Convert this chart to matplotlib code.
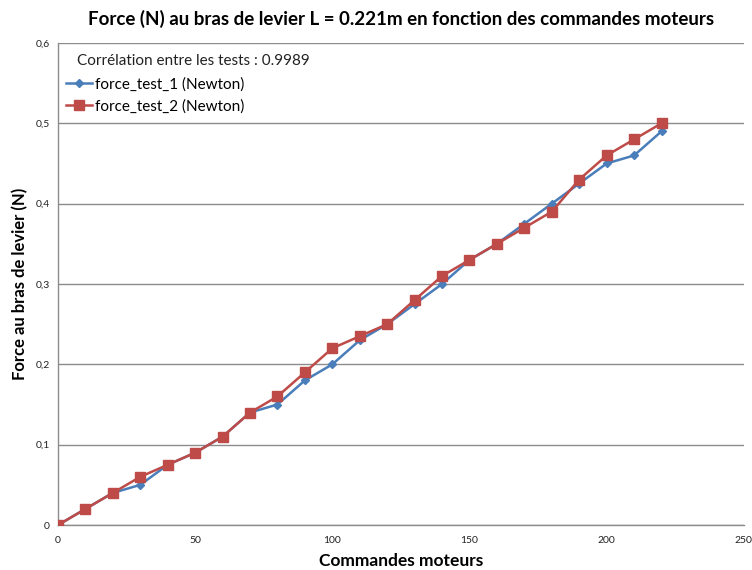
import matplotlib
matplotlib.use("Agg")
import matplotlib.pyplot as plt
from matplotlib.ticker import FuncFormatter, MultipleLocator

commandes = [0, 10, 20, 30, 40, 50, 60, 70, 80, 90, 100, 110,
             120, 130, 140, 150, 160, 170, 180, 190, 200, 210, 220]
force_test_1 = [0, 0.02, 0.04, 0.05, 0.075, 0.09, 0.11, 0.14, 0.15, 0.18, 0.20, 0.23,
                0.25, 0.275, 0.30, 0.33, 0.35, 0.375, 0.40, 0.425, 0.45, 0.46, 0.49]
force_test_2 = [0, 0.02, 0.04, 0.06, 0.075, 0.09, 0.11, 0.14, 0.16, 0.19, 0.22, 0.235,
                0.25, 0.28, 0.31, 0.33, 0.35, 0.37, 0.39, 0.43, 0.46, 0.48, 0.50]
correlation = 0.9989

title = "Force (N) au bras de levier L = 0.221m en fonction des commandes moteurs"
xlabel = "Commandes moteurs"
ylabel = "Force au bras de levier (N)"
label_1 = "force_test_1 (Newton)"
label_2 = "force_test_2 (Newton)"

plt.rcParams["font.family"] = ["Lato", "DejaVu Sans"]

BLUE = "#4A7EBB"
RED = "#BE4B48"
GRID = "#8C8C8C"

fig = plt.figure(figsize=(7.52, 5.70), dpi=100)
ax = fig.add_axes([0.0771, 0.0789, 0.9120, 0.8457])

ax.plot(commandes, force_test_1, color=BLUE, lw=1.8, marker="D", ms=4.5,
        mfc=BLUE, mec=BLUE, label=label_1, zorder=3)
ax.plot(commandes, force_test_2, color=RED, lw=1.8, marker="s", ms=6.5,
        mfc=RED, mec=RED, label=label_2, zorder=4)

ax.set_xlim(0, 250)
ax.set_ylim(0, 0.6)
ax.xaxis.set_major_locator(MultipleLocator(50))
ax.yaxis.set_major_locator(MultipleLocator(0.1))
ax.yaxis.set_major_formatter(FuncFormatter(
    lambda v, p: "0" if abs(v) < 1e-9 else f"{v:.1f}".replace(".", ",")))

ax.grid(axis="y", color=GRID, lw=1.0)
ax.set_axisbelow(True)
for side in ("top", "right"):
    ax.spines[side].set_visible(False)
for side in ("left", "bottom"):
    ax.spines[side].set_color(GRID)
    ax.spines[side].set_linewidth(1.0)
ax.tick_params(axis="both", length=0, labelsize=7.5, colors="#222222", pad=6)
ax.tick_params(axis="x", pad=8)

ax.set_title(title, fontsize=13.5, fontweight="bold", pad=13)
ax.set_xlabel(xlabel, fontsize=12.5, fontweight="bold", labelpad=6)
ax.set_ylabel(ylabel, fontsize=12, fontweight="bold", labelpad=5)

ax.text(0.028, 0.962, f"Corrélation entre les tests : {correlation}",
        transform=ax.transAxes, fontsize=11, va="center", ha="left", color="#222222")
ax.legend(loc="upper left", bbox_to_anchor=(-0.002, 0.948), frameon=False,
          fontsize=11, handlelength=1.7, handletextpad=0.2, labelspacing=0.5,
          borderaxespad=0.2)

fig.savefig("out.png", dpi=100)
